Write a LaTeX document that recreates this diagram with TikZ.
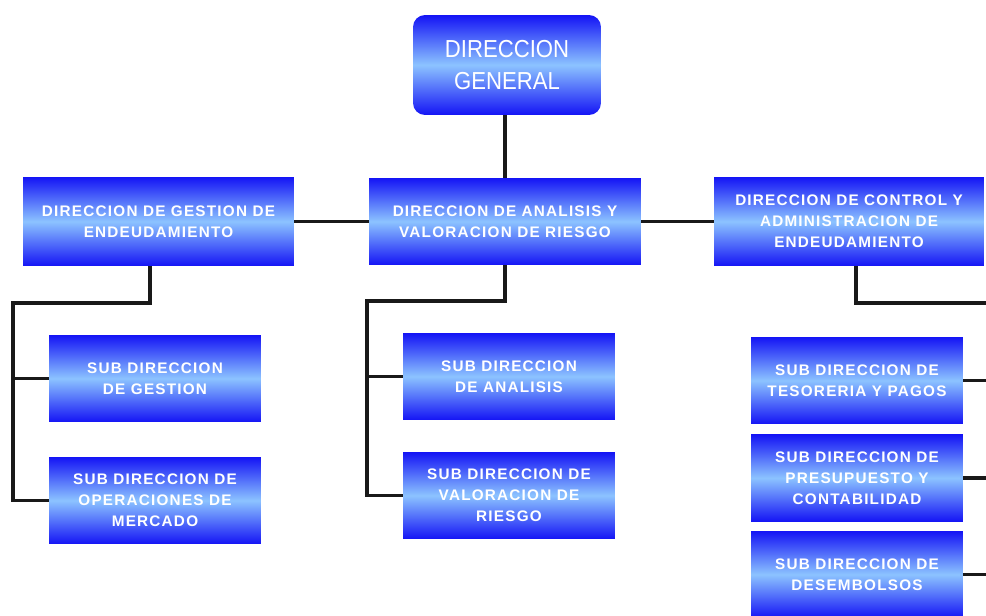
\documentclass[tikz,border=0pt]{standalone}
\usepackage{fontspec}
\setmainfont{Liberation Sans}
\newfontfamily\boxfont[LetterSpace=8]{Liberation Sans}
\newfontfamily\genfont[FakeStretch=0.9]{Liberation Sans}
\usepackage{xcolor}
\usepackage{tikz}
\definecolor{dirblue}{RGB}{20,20,245}
\definecolor{dirlight}{RGB}{140,195,255}

\begin{document}
\begin{tikzpicture}[x=0.02cm, y=-0.02cm,
  dirbox/.style={rectangle, top color=dirblue, bottom color=dirblue, middle color=dirlight,
    text=white, align=center, inner sep=0pt, minimum width=4.24cm, minimum height=1.74cm,
    font=\boxfont\bfseries\fontsize{8.7}{12}\selectfont},
  link/.style={line width=2.1pt, black!90}]
\clip (0,0) rectangle (986,615);

% direccion general
\node[dirbox, rounded corners=0.24cm, minimum width=3.76cm, minimum height=2cm,
  font=\genfont\fontsize{14}{18.7}\selectfont] (gen) at (507,65) {DIRECCION\\GENERAL};

% direcciones
\node[dirbox, minimum width=5.42cm, minimum height=1.78cm] (dge) at (158.5,221.5) {DIRECCION DE GESTION DE\\ENDEUDAMIENTO};
\node[dirbox, minimum width=5.44cm, minimum height=1.74cm] (dav) at (505,221.5) {DIRECCION DE ANALISIS Y\\VALORACION DE RIESGO};
\node[dirbox, minimum width=5.40cm, minimum height=1.78cm] (dca) at (849,221.5) {DIRECCION DE CONTROL Y\\ADMINISTRACION DE\\ENDEUDAMIENTO};

% sub direcciones
\node[dirbox] (sdg) at (155,378.5) {SUB DIRECCION\\DE GESTION};
\node[dirbox] (sdo) at (155,500.5) {SUB DIRECCION DE\\OPERACIONES DE\\MERCADO};
\node[dirbox] (sda) at (509,376.5) {SUB DIRECCION\\DE ANALISIS};
\node[dirbox] (sdv) at (509,495.5) {SUB DIRECCION DE\\VALORACION DE\\RIESGO};
\node[dirbox] (sdt) at (857,380.5) {SUB DIRECCION DE\\TESORERIA Y PAGOS};
\node[dirbox] (sdp) at (857,478) {SUB DIRECCION DE\\PRESUPUESTO Y\\CONTABILIDAD};
\node[dirbox] (sdd) at (857,574.5) {SUB DIRECCION DE\\DESEMBOLSOS};

% lines
\draw[link] (dav.north |- gen.south) -- (dav.north);
\draw[link] (dge.east) -- (dav.west);
\draw[link] (dav.east) -- (dca.west);

\coordinate (lbus) at (13,303);
\draw[link] ([xshift=-0.17cm]dge.south) |- (lbus) |- (sdo.west);
\draw[link] (lbus |- sdg.west) -- (sdg.west);

\coordinate (mbus) at (367,301);
\draw[link] (dav.south) |- (mbus) |- (sdv.west);
\draw[link] (mbus |- sda.west) -- (sda.west);

\coordinate (rbus) at (996,303);
\draw[link] ([xshift=0.14cm]dca.south) |- (rbus) |- (sdd.east);
\draw[link] (sdt.east) -- (sdt.east -| rbus);
\draw[link] (sdp.east) -- (sdp.east -| rbus);
\end{tikzpicture}
\end{document}
